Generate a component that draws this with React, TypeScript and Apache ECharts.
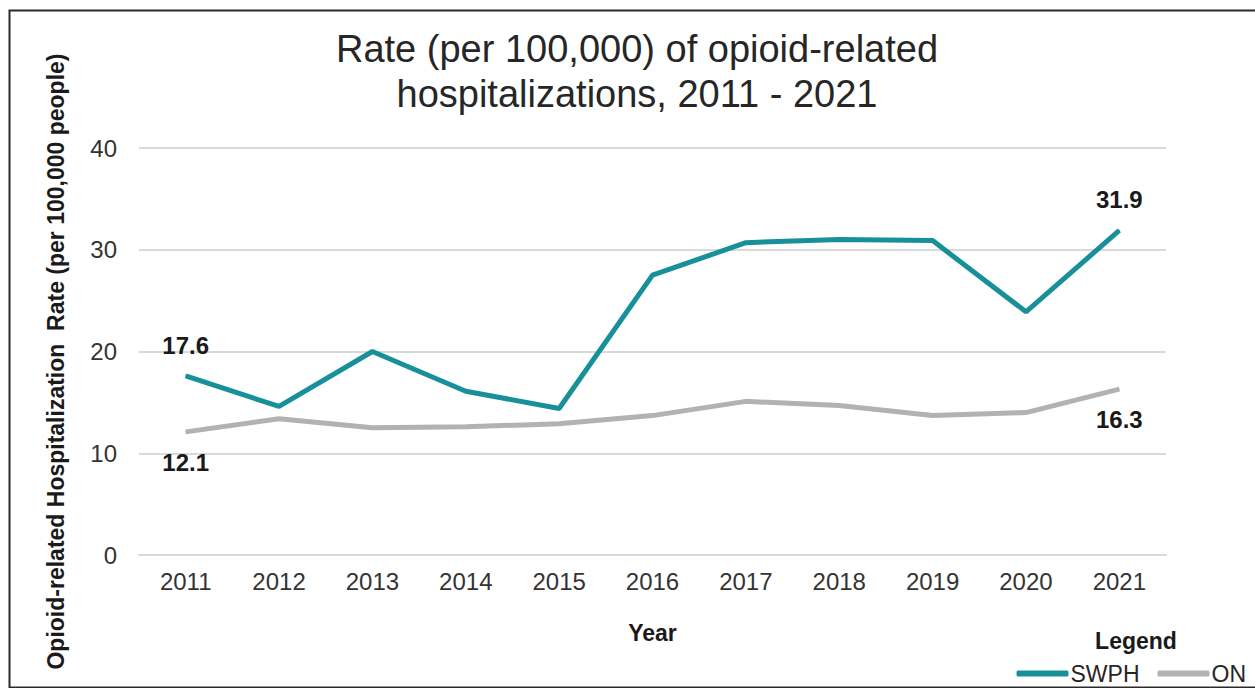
import React, { useEffect, useRef } from "react";
import * as echarts from "echarts";

const years = ["2011", "2012", "2013", "2014", "2015", "2016", "2017", "2018", "2019", "2020", "2021"];
const swph = [17.6, 14.6, 20.0, 16.1, 14.4, 27.5, 30.7, 31.0, 30.9, 23.9, 31.9];
const on = [12.1, 13.4, 12.5, 12.6, 12.9, 13.7, 15.1, 14.7, 13.7, 14.0, 16.3];
const yTicks = { min: 0, max: 40, interval: 10 };

const FONT = "'Liberation Sans', Arial, sans-serif";
const TEAL = "#18909a";
const GREY = "#b3b1b3";

function withEndLabels(values: number[], position: "top" | "bottom") {
  return values.map((v, i) =>
    i === 0 || i === values.length - 1
      ? {
          value: v,
          label: {
            show: true,
            position,
            distance: 18,
            fontFamily: FONT,
            fontSize: 24,
            fontWeight: "bold",
            color: "#1a1a1a",
            formatter: (p: any) => Number(p.value).toFixed(1),
          },
        }
      : v
  );
}

export default function App() {
  const ref = useRef<HTMLDivElement>(null);
  useEffect(() => {
    document.body.style.margin = "0";
    const chart = echarts.init(ref.current!, undefined, { renderer: "svg" });
    chart.setOption({
      animation: false,
      backgroundColor: "#ffffff",
      textStyle: { fontFamily: FONT },
      title: [
        {
          text: "Rate (per 100,000) of opioid-related\nhospitalizations, 2011 - 2021",
          left: 632,
          top: 21,
          textAlign: "center",
          textStyle: {
            fontFamily: FONT,
            fontSize: 38,
            fontWeight: "normal",
            color: "#262626",
            lineHeight: 45,
          },
        },
        {
          text: "Legend",
          left: 1131,
          top: 624,
          textAlign: "center",
          textStyle: { fontFamily: FONT, fontSize: 23, fontWeight: "bold", color: "#1a1a1a" },
        },
      ],
      legend: {
        right: 4,
        top: 657,
        itemWidth: 52,
        itemHeight: 6,
        itemGap: 18,
        icon: "roundRect",
        textStyle: { fontFamily: FONT, fontSize: 23, color: "#262626", padding: [0, 0, 0, -3] },
        data: ["SWPH", "ON"],
      },
      grid: { left: 139, right: 89, top: 148, bottom: 133 },
      xAxis: {
        type: "category",
        data: years,
        boundaryGap: true,
        name: "Year",
        nameLocation: "middle",
        nameGap: 66,
        nameTextStyle: { fontFamily: FONT, fontSize: 23, fontWeight: "bold", color: "#1a1a1a" },
        axisLine: { lineStyle: { color: "#d9d9d9", width: 2 } },
        axisTick: { show: false },
        axisLabel: { fontFamily: FONT, fontSize: 24, color: "#333333", margin: 14 },
      },
      yAxis: {
        type: "value",
        min: yTicks.min,
        max: yTicks.max,
        interval: yTicks.interval,
        name: "Opioid-related Hospitalization  Rate (per 100,000 people)",
        nameLocation: "middle",
        nameGap: 72,
        nameTextStyle: {
          fontFamily: FONT,
          fontSize: 23,
          fontWeight: "bold",
          color: "#1a1a1a",
          padding: [0, 20, 0, 0],
        },
        axisLine: { show: false },
        axisTick: { show: false },
        axisLabel: { fontFamily: FONT, fontSize: 24, color: "#333333", margin: 22 },
        splitLine: { lineStyle: { color: "#d9d9d9", width: 2 } },
      },
      series: [
        {
          name: "SWPH",
          type: "line",
          data: withEndLabels(swph, "top"),
          showSymbol: true,
          symbol: "circle",
          symbolSize: 1,
          lineStyle: { color: TEAL, width: 5 },
          itemStyle: { color: TEAL },
          z: 3,
        },
        {
          name: "ON",
          type: "line",
          data: withEndLabels(on, "bottom"),
          showSymbol: true,
          symbol: "circle",
          symbolSize: 1,
          lineStyle: { color: GREY, width: 5 },
          itemStyle: { color: GREY },
          z: 2,
        },
      ],
      graphic: [
        {
          type: "rect",
          left: 7,
          top: 8,
          shape: { x: 0, y: 0, width: 1270, height: 677 },
          style: { fill: "none", stroke: "#2a2a2a", lineWidth: 2 },
          z: 100,
          silent: true,
        },
      ],
    });
    return () => chart.dispose();
  }, []);
  return <div ref={ref} style={{ width: 1255, height: 688 }} />;
}
